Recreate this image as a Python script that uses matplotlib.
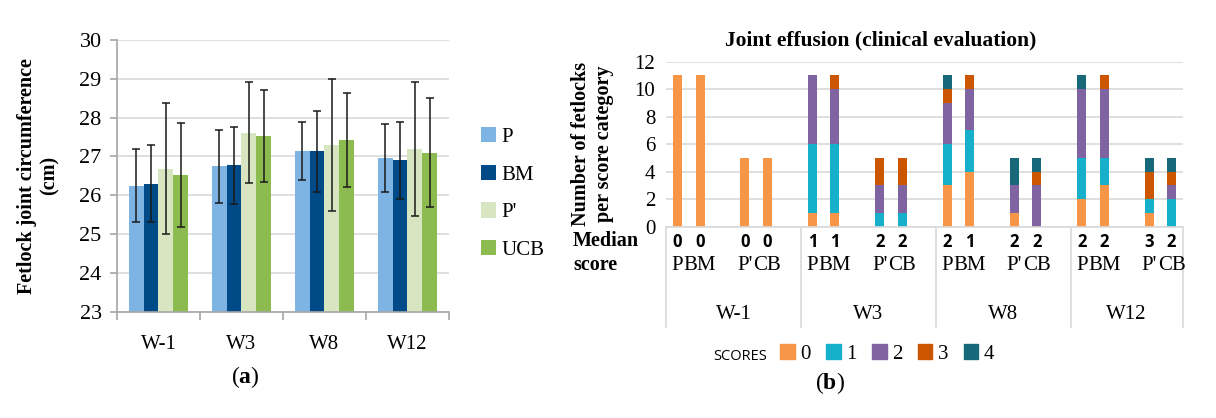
import numpy as np
import matplotlib.pyplot as plt
from matplotlib.patches import Patch
from matplotlib.transforms import blended_transform_factory

plt.rcParams['font.family'] = 'Liberation Serif'
plt.rcParams['mathtext.fontset'] = 'custom'
plt.rcParams['mathtext.rm'] = 'Liberation Serif'
plt.rcParams['mathtext.bf'] = 'Liberation Serif:bold'

# ---- panel (a) data ----
weeks = ["W-1", "W3", "W8", "W12"]
groups_a = ["P", "BM", "P'", "UCB"]
mean_p = [26.25, 26.74, 27.13, 26.96]
mean_bm = [26.30, 26.77, 27.13, 26.90]
mean_p2 = [26.68, 27.61, 27.29, 27.20]
mean_ucb = [26.51, 27.52, 27.42, 27.10]
sd_p = [0.93, 0.94, 0.75, 0.88]
sd_bm = [1.00, 1.00, 1.04, 0.99]
sd_p2 = [1.69, 1.30, 1.70, 1.73]
sd_ucb = [1.34, 1.18, 1.21, 1.40]

# ---- panel (b) data ----
sub_labels = ["P", "BM", "P'", "CB"]
score0 = [11, 11, 5, 5, 1, 1, 0, 0, 3, 4, 1, 0, 2, 3, 1, 0]
score1 = [0, 0, 0, 0, 5, 5, 1, 1, 3, 3, 0, 0, 3, 2, 1, 2]
score2 = [0, 0, 0, 0, 5, 4, 2, 2, 3, 3, 2, 3, 5, 5, 0, 1]
score3 = [0, 0, 0, 0, 0, 1, 2, 2, 1, 1, 0, 1, 0, 1, 2, 1]
score4 = [0, 0, 0, 0, 0, 0, 0, 0, 1, 0, 2, 1, 1, 0, 1, 1]
medians = [0, 0, 0, 0, 1, 1, 2, 2, 2, 1, 2, 2, 2, 2, 3, 2]
score_names = ["0", "1", "2", "3", "4"]

colors_a = ["#7EB4E3", "#004B87", "#D7E6C0", "#8CBB4F"]
colors_b = ["#F79646", "#17B0CA", "#8064A2", "#CC5500", "#17697A"]
grid_c = "#D9D9D9"
axis_c = "#A6A6A6"

fig = plt.figure(figsize=(12.16, 4.18), dpi=100)

# ================= panel (a) =================
ax1 = fig.add_axes([0.0962, 0.2545, 0.273, 0.6498])
x = np.arange(len(weeks))
w = 0.178
means = [mean_p, mean_bm, mean_p2, mean_ucb]
sds = [sd_p, sd_bm, sd_p2, sd_ucb]
for k in range(4):
    ax1.bar(x + (k - 1.5) * w, np.array(means[k]) - 23, w, bottom=23,
            color=colors_a[k], label=groups_a[k], zorder=2)
    ax1.errorbar(x + (k - 1.5) * w, means[k], yerr=sds[k], fmt="none",
                 ecolor="#1a1a1a", elinewidth=1.1, capsize=3, capthick=1.1, zorder=3)
ax1.set_xlim(-0.5, 3.5)
ax1.set_ylim(23, 30)
ax1.set_yticks(range(23, 31))
ax1.yaxis.grid(True, color=grid_c, lw=1.2, zorder=0)
ax1.set_axisbelow(True)
for s in ["top", "right"]:
    ax1.spines[s].set_visible(False)
for s in ["left", "bottom"]:
    ax1.spines[s].set_color(axis_c)
    ax1.spines[s].set_linewidth(1.2)
ax1.set_xticks(x)
ax1.set_xticklabels(weeks)
ax1.set_xticks(np.arange(-0.5, 4.0, 1.0), minor=True)
ax1.tick_params(axis="x", which="major", length=0, pad=17, labelsize=15)
ax1.tick_params(axis="x", which="minor", length=6, color=axis_c, width=1.2)
ax1.tick_params(axis="y", length=5, color=axis_c, width=1.2, labelsize=16, pad=6)
ax1.set_ylabel("Fetlock joint circumference\n(cm)", fontsize=14.5, fontweight="bold")
ax1.yaxis.set_label_coords(-0.172, 0.5)
ax1.legend(loc="upper left", bbox_to_anchor=(1.07, 0.71), frameon=False,
           fontsize=15, handlelength=0.75, handleheight=0.75, handletextpad=0.25,
           labelspacing=0.85, borderaxespad=0)
fig.text(245 / 1216, 1 - 377 / 418, r"($\mathbf{a}$)", fontsize=17,
         ha="center", va="center")

# ================= panel (b) =================
ax2 = fig.add_axes([0.548, 0.4577, 0.4247, 0.3947])
pos = []
for wk in range(4):
    for i in [0, 1, 3, 4]:
        pos.append(wk * 6 + i)
pos = np.array(pos)
scores = [score0, score1, score2, score3, score4]
bottom = np.zeros(len(pos))
for k in range(5):
    ax2.bar(pos, scores[k], 0.4, bottom=bottom, color=colors_b[k],
            label=score_names[k], zorder=2)
    bottom += np.array(scores[k])
ax2.set_xlim(-0.5, 22.5)
ax2.set_ylim(0, 12)
ax2.set_yticks(range(0, 13, 2))
ax2.yaxis.grid(True, color=grid_c, lw=1.2, zorder=0)
ax2.set_axisbelow(True)
for s in ["top", "right", "left"]:
    ax2.spines[s].set_visible(False)
ax2.spines["bottom"].set_color(grid_c)
ax2.spines["bottom"].set_linewidth(1.2)
ax2.set_xticks([])
ax2.tick_params(axis="y", length=0, labelsize=15, pad=8)
ax2.set_ylabel("Number of fetlocks\nper score category", fontsize=14.5, fontweight="bold")
ax2.yaxis.set_label_coords(-0.102, 0.5)
ax2.set_title("Joint effusion (clinical evaluation)", fontsize=15.5, fontweight="bold",
              x=0.415, pad=12)

tr = blended_transform_factory(ax2.transData, ax2.transAxes)
for d in [-0.5, 5.5, 11.5, 17.5, 22.5]:
    ax2.plot([d, d], [0, -0.606], transform=tr, color=grid_c, lw=1.2, clip_on=False)
for j, p in enumerate(pos):
    ax2.text(p, -0.09, str(medians[j]), transform=tr, ha="center", va="center",
             fontsize=12, fontweight="bold", family="Open Sans")
    ax2.text(p, -0.235, sub_labels[j % 4], transform=tr, ha="center", va="center",
             fontsize=15)
for wk in range(4):
    xc = (wk * 6 - 0.5 + min(wk * 6 + 5.5, 22.5)) / 2
    ax2.text(xc, -0.535, weeks[wk], transform=tr, ha="center", va="center", fontsize=15)

fig.text(573 / 1216, 1 - 253 / 418, "Median\nscore", fontsize=14.5, fontweight="bold",
         ha="left", va="center", linespacing=1.3)

handles = [Patch(color=c) for c in colors_b]
fig.legend(handles, score_names, loc="center left",
           bbox_to_anchor=(772 / 1216, 1 - 354 / 418), ncol=5, frameon=False,
           fontsize=15, handlelength=0.7, handleheight=0.7, handletextpad=0.25,
           columnspacing=0.75, borderaxespad=0)
fig.text(713 / 1216, 1 - 356 / 418, "SCORES", fontsize=10.5, family="Open Sans",
         ha="left", va="center")
fig.text(830 / 1216, 1 - 383 / 418, r"($\mathbf{b}$)", fontsize=17,
         ha="center", va="center")

fig.savefig("out.png", dpi=100)
